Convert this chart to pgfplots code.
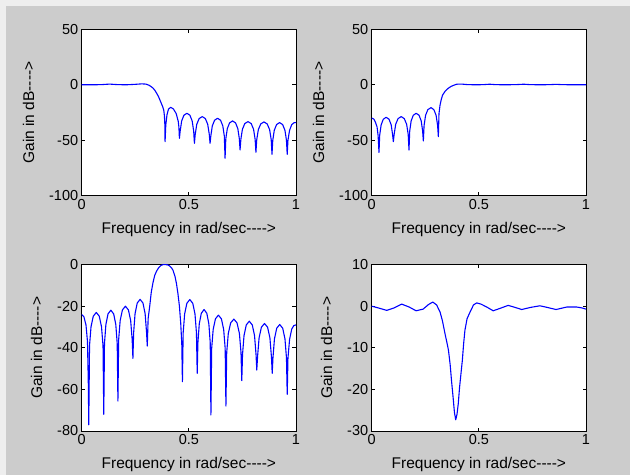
\documentclass[border=0pt]{standalone}
\usepackage{fontspec}
\setmainfont{Liberation Sans}
\usepackage{pgfplots}
\pgfplotsset{compat=1.18}

\definecolor{figgray}{RGB}{204,204,204}
\definecolor{edgegray}{RGB}{238,238,238}
\definecolor{matblue}{RGB}{0,0,255}

\pgfplotsset{
  mat/.style={
    scale only axis,
    width=214.3pt, height=166.4pt,
    anchor=south west,
    axis background/.style={fill=white},
    xmin=0, xmax=1,
    xtick={0,0.5,1}, xticklabels={0,0.5,1},
    tick align=inside,
    major tick length=3.5pt,
    every tick/.style={black, line width=0.8pt},
    axis line style={black, line width=0.8pt},
    tick label style={font=\fontsize{14.5}{16}\selectfont},
    label style={font=\fontsize{15.5}{17}\selectfont},
    xlabel style={at={(ticklabel cs:0.5,6pt)}},
    ylabel style={at={(ticklabel cs:0.5,8pt)}},
    xlabel={Frequency in rad/sec-{}-{}-{}->},
    ylabel={Gain in dB-{}-{}-{}->},
  },
  matline/.style={matblue, line width=1.1pt, line join=round},
}

\begin{document}
\begin{tikzpicture}
\fill[figgray] (0,0) rectangle (630pt,475pt);
\fill[edgegray] (0,0) rectangle (6pt,475pt);
\fill[edgegray] (0,469pt) rectangle (630pt,475pt);

% low-pass
\begin{axis}[mat, at={(81.7pt,279.3pt)},
  ymin=-100, ymax=50, ytick={-100,-50,0,50}, yticklabels={-100,-50,0,50}]
\addplot[matline] table {
0 0
0.05 0
0.09 0.1
0.13 0.6
0.17 0.1
0.21 0
0.25 0.4
0.28 0.8
0.30 0.6
0.315 -0.5
0.325 -1.8
0.334 -3.2
0.342 -5.2
0.35 -7.7
0.358 -10.5
0.365 -13.7
0.372 -17
0.378 -19.8
0.383 -23
0.386 -28
0.388 -36
0.389 -51.3
0.3924 -36.3
0.398 -27
0.405 -22
0.415 -20.3
0.428 -21.8
0.441 -26
0.4505 -33
0.4535 -38
0.456 -48.3
0.4595 -41.7
0.4665 -32.6
0.477 -27.5
0.491 -25.7
0.505 -27.5
0.5155 -32.6
0.5225 -41.7
0.526 -52.8
0.5297 -44.7
0.537 -35.6
0.548 -30.5
0.5625 -28.7
0.577 -30.5
0.588 -35.6
0.5953 -44.7
0.599 -52.8
0.6025 -46.2
0.6095 -37.1
0.62 -32.0
0.634 -30.2
0.648 -32.0
0.6585 -37.1
0.6655 -46.2
0.669 -66.3
0.6725 -48.6
0.6795 -39.5
0.69 -34.4
0.704 -32.6
0.718 -34.4
0.7285 -39.5
0.7355 -48.6
0.739 -58.8
0.7427 -49.2
0.75 -40.1
0.761 -35.0
0.776 -33.2
0.791 -35.0
0.802 -40.1
0.8093 -49.2
0.813 -60.9
0.8168 -49.5
0.8243 -40.4
0.8355 -35.3
0.8505 -33.5
0.8655 -35.3
0.8768 -40.4
0.8843 -49.5
0.888 -62.7
0.8916 -50.1
0.8987 -41
0.9093 -35.9
0.9235 -34.1
0.9377 -35.9
0.9484 -41
0.9555 -50.1
0.959 -62.7
0.9625 -50
0.97 -41
0.98 -36
0.99 -34.3
1.0 -34
};
\end{axis}

% high-pass
\begin{axis}[mat, at={(371.7pt,279.3pt)},
  ymin=-100, ymax=50, ytick={-100,-50,0,50}, yticklabels={-100,-50,0,50}]
\addplot[matline] table {
0 -30
0.01 -31
0.018 -34
0.025 -38
0.03 -46
0.034 -61
0.0374 -45.3
0.044 -36.2
0.054 -31.1
0.0675 -29.3
0.081 -31.1
0.091 -36.2
0.0977 -45.3
0.101 -51.3
0.1047 -44.7
0.112 -35.6
0.123 -30.5
0.1375 -28.7
0.152 -30.5
0.163 -35.6
0.1703 -44.7
0.174 -58.8
0.1774 -41.7
0.184 -32.6
0.194 -27.5
0.2075 -25.7
0.221 -27.5
0.231 -32.6
0.2377 -41.7
0.241 -50.7
0.2445 -36.6
0.2515 -27.5
0.262 -22.4
0.277 -20.6
0.29 -22.4
0.3005 -27.5
0.3075 -36.6
0.311 -46.8
0.314 -26
0.319 -18.2
0.325 -13
0.331 -9.2
0.344 -5.5
0.357 -3.2
0.37 -1.5
0.385 -0.3
0.397 0.5
0.42 0.6
0.45 0.1
0.49 0
0.52 0.1
0.55 0.5
0.58 0.1
0.62 0
0.67 0.1
0.71 0.5
0.74 0.1
0.79 0
0.83 0.1
0.86 0.4
0.89 0.1
0.94 0
1 0
};
\end{axis}

% band-pass
\begin{axis}[mat, at={(81.7pt,44pt)},
  ymin=-80, ymax=0, ytick={-80,-60,-40,-20,0}, yticklabels={-80,-60,-40,-20,0}]
\addplot[matline] table {
0 -24
0.01 -25
0.02 -29
0.027 -37
0.031 -58
0.033 -77
0.0365 -39
0.0435 -29.9
0.054 -24.8
0.068 -23
0.082 -24.8
0.0925 -29.9
0.0995 -39
0.103 -72
0.1063 -37.9
0.1129 -28.8
0.1228 -23.7
0.136 -21.9
0.1492 -23.7
0.1591 -28.8
0.1657 -37.9
0.169 -65.6
0.1725 -36
0.1795 -26.9
0.19 -21.8
0.204 -20
0.218 -21.8
0.2285 -26.9
0.2355 -36
0.239 -45.1
0.2424 -32.7
0.249 -23.6
0.259 -18.5
0.2725 -16.7
0.286 -18.5
0.296 -23.6
0.3027 -32.7
0.306 -39.2
0.31 -26
0.317 -20.3
0.325 -13
0.333 -8.5
0.341 -5.1
0.35 -3
0.36 -1.4
0.37 -0.4
0.38 0
0.39 0
0.40 -0.1
0.41 -0.6
0.42 -1.7
0.426 -2.7
0.435 -5.5
0.442 -9
0.449 -13.9
0.456 -20
0.462 -28
0.467 -38
0.47 -56.3
0.4735 -32.8
0.4804 -23.7
0.4907 -18.6
0.5045 -16.8
0.5183 -18.6
0.5286 -23.7
0.5355 -32.8
0.539 -52.3
0.5422 -37.6
0.5486 -28.5
0.5582 -23.4
0.571 -21.6
0.5838 -23.4
0.5934 -28.5
0.5998 -37.6
0.603 -72.3
0.6065 -40.3
0.6135 -31.2
0.624 -26.1
0.638 -24.3
0.652 -26.1
0.6625 -31.2
0.6695 -40.3
0.673 -68
0.6767 -42.2
0.6841 -33.1
0.6952 -28
0.71 -26.2
0.7248 -28
0.7359 -33.1
0.7433 -42.2
0.747 -55.8
0.7505 -43.2
0.7575 -34.1
0.768 -29
0.782 -27.2
0.796 -29
0.8065 -34.1
0.8135 -43.2
0.817 -50.7
0.8206 -44.3
0.8278 -35.2
0.8386 -30.1
0.853 -28.3
0.8674 -30.1
0.8782 -35.2
0.8854 -44.3
0.889 -52.3
0.8925 -44.8
0.8995 -35.7
0.91 -30.6
0.924 -28.8
0.938 -30.6
0.9485 -35.7
0.9555 -44.8
0.959 -62.4
0.9625 -45
0.97 -36
0.98 -31
0.99 -29.3
1.0 -29
};
\end{axis}

% band-stop
\begin{axis}[mat, at={(371.7pt,44pt)},
  ymin=-30, ymax=10, ytick={-30,-20,-10,0,10}, yticklabels={-30,-20,-10,0,10}]
\addplot[matline] table {
0 0
0.03 -0.4
0.07 -1
0.105 -0.4
0.14 0.5
0.175 -0.2
0.207 -1.1
0.24 -0.7
0.265 0.4
0.285 1.0
0.303 0.3
0.319 -1.4
0.33 -3.5
0.342 -6.6
0.35 -8.5
0.358 -10.5
0.366 -14
0.373 -18.2
0.38 -22
0.386 -25.5
0.392 -27.3
0.398 -26
0.404 -23.4
0.41 -19.5
0.417 -16
0.423 -13
0.429 -9
0.435 -5.8
0.445 -3
0.459 -1.4
0.475 0.3
0.49 0.8
0.51 0.5
0.537 -0.2
0.567 -1.1
0.6 -0.5
0.637 0.2
0.67 -0.3
0.7 -0.8
0.74 -0.3
0.785 0.1
0.82 -0.3
0.86 -0.8
0.91 -0.2
0.957 -0.2
0.98 -0.4
1 -0.7
};
\end{axis}

\pgfresetboundingbox
\useasboundingbox (0,0) rectangle (630pt,475pt);
\end{tikzpicture}
\end{document}
